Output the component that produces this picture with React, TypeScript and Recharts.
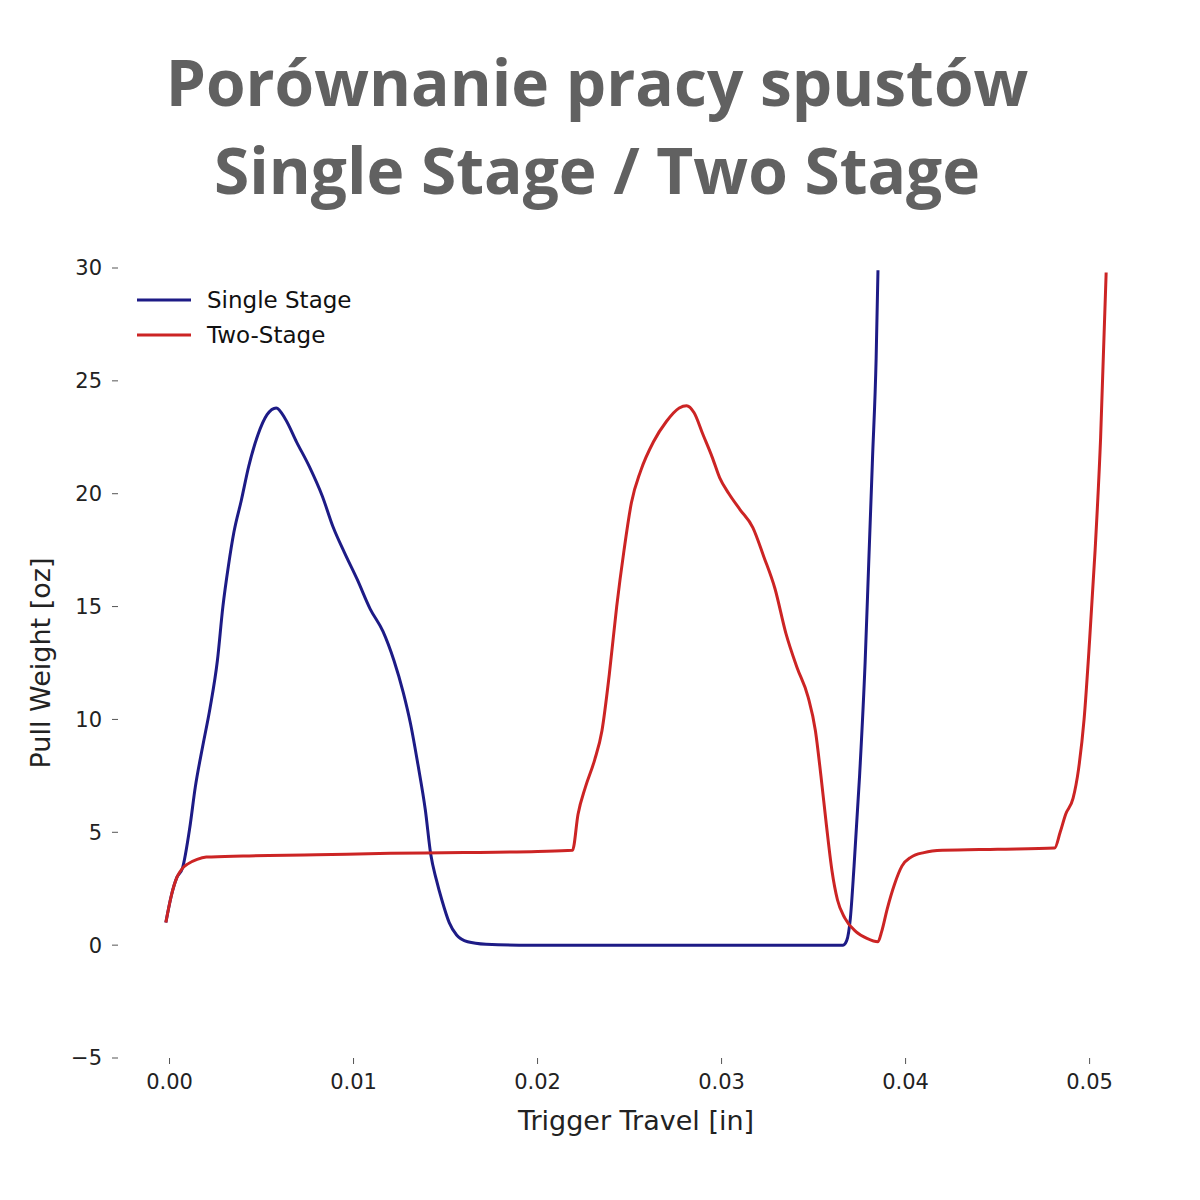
import { LineChart, Line, XAxis, YAxis, Legend } from "recharts";

// trigger travel [in] / pull weight [oz]
const singleStageX = [
  -0.0002, 0.0001, 0.0004, 0.0007, 0.0011, 0.0014, 0.0018, 0.0022, 0.0026, 0.0029,
  0.0032, 0.0035, 0.0039, 0.0043, 0.0048, 0.0053, 0.0058, 0.0063, 0.0069, 0.0076,
  0.0083, 0.0089, 0.0095, 0.0102, 0.0109, 0.0116, 0.0122, 0.0127, 0.0131, 0.0135,
  0.0139, 0.0142, 0.0145, 0.0148, 0.0152, 0.0156, 0.0162, 0.0172, 0.019, 0.025,
  0.03, 0.0366, 0.0368, 0.037, 0.0372, 0.0375, 0.0378, 0.038, 0.0382, 0.0384, 0.0385,
];
const singleStageY = [
  1.0, 2.2, 3.0, 3.4, 5.2, 7.0, 8.8, 10.5, 12.6, 15.0,
  16.8, 18.3, 19.7, 21.2, 22.6, 23.5, 23.8, 23.3, 22.3, 21.2,
  19.9, 18.5, 17.4, 16.2, 14.9, 13.9, 12.6, 11.2, 9.8, 8.0,
  6.0, 4.0, 2.9, 2.0, 1.0, 0.45, 0.15, 0.04, 0.0, 0.0,
  0.0, 0.0, 0.2, 1.2, 3.5, 7.5, 12.5, 17.0, 21.5, 26.0, 29.9,
];

const twoStageX = [
  -0.0002, 0.0001, 0.0004, 0.0007, 0.001, 0.0015, 0.002, 0.004, 0.008, 0.012,
  0.016, 0.02, 0.0219, 0.0222, 0.0226, 0.0231, 0.0235, 0.0239, 0.0243, 0.0247,
  0.0251, 0.0256, 0.0263, 0.027, 0.0277, 0.0281, 0.0285, 0.029, 0.0295, 0.0299,
  0.0304, 0.031, 0.0317, 0.0323, 0.0329, 0.0335, 0.0341, 0.0347, 0.0351, 0.0354,
  0.0357, 0.036, 0.0363, 0.0367, 0.0373, 0.0379, 0.0385, 0.0387, 0.039, 0.0394,
  0.0398, 0.0403, 0.041, 0.042, 0.045, 0.0481, 0.0484, 0.0487, 0.0491, 0.0494,
  0.0497, 0.05, 0.0503, 0.0506, 0.0509,
];
const twoStageY = [
  1.0, 2.2, 3.0, 3.4, 3.6, 3.8, 3.9, 3.95, 4.0, 4.07,
  4.1, 4.15, 4.2, 5.8, 7.0, 8.2, 9.5, 12.0, 15.0, 17.5,
  19.6, 21.0, 22.3, 23.2, 23.8, 23.9, 23.6, 22.6, 21.6, 20.7,
  20.0, 19.3, 18.5, 17.2, 15.8, 13.8, 12.3, 11.0, 9.5, 7.5,
  5.3, 3.3, 2.0, 1.2, 0.6, 0.3, 0.15, 0.6, 1.6, 2.7,
  3.5, 3.9, 4.1, 4.2, 4.25, 4.3, 5.0, 5.8, 6.5, 7.8,
  10.0, 13.5, 17.5, 22.5, 29.8,
];

const xTicks = [0, 0.01, 0.02, 0.03, 0.04, 0.05];
const yTicks = [-5, 0, 5, 10, 15, 20, 25, 30];

const singleStage = singleStageX.map((x, i) => ({ x, y: singleStageY[i] }));
const twoStage = twoStageX.map((x, i) => ({ x, y: twoStageY[i] }));

const BLUE = "#1d1b86";
const RED = "#cc2424";
const tickFont = { fontFamily: "DejaVu Sans", fontSize: 21, fill: "#222" };
const labelFont = { fontFamily: "DejaVu Sans", fontSize: 27, fill: "#222" };

function formatY(v: number) {
  return v < 0 ? "\u2212" + Math.abs(v) : String(v);
}

function renderLegend() {
  const items = [
    { label: "Single Stage", color: BLUE },
    { label: "Two-Stage", color: RED },
  ];
  return (
    <div style={{ fontFamily: "DejaVu Sans", fontSize: 23, color: "#111" }}>
      {items.map((item) => (
        <div
          key={item.label}
          style={{ display: "flex", alignItems: "center", height: 35 }}
        >
          <svg width={54} height={6} style={{ marginRight: 16 }}>
            <line x1={0} y1={3} x2={54} y2={3} stroke={item.color} strokeWidth={3} />
          </svg>
          <span>{item.label}</span>
        </div>
      ))}
    </div>
  );
}

export default function App() {
  return (
    <div
      style={{
        position: "absolute",
        left: 0,
        top: 0,
        width: 1200,
        height: 1200,
        background: "#fff",
      }}
    >
      <div
        style={{
          position: "absolute",
          top: 38,
          left: 0,
          width: 1194,
          textAlign: "center",
          fontFamily: "Open Sans",
          fontWeight: 700,
          fontSize: 64,
          lineHeight: "88px",
          color: "#616161",
        }}
      >
        Porównanie pracy spustów
        <br />
        Single Stage / Two Stage
      </div>
      <LineChart
        width={1200}
        height={1200}
        margin={{ top: 268, right: 46, bottom: 42, left: 18 }}
      >
        <XAxis
          type="number"
          dataKey="x"
          domain={[-0.0028, 0.0535]}
          ticks={xTicks}
          tickFormatter={(v: number) => v.toFixed(2)}
          tick={tickFont}
          axisLine={false}
          tickLine={{ stroke: "#555" }}
          tickSize={6}
          tickMargin={10}
          height={100}
          allowDataOverflow
          label={{
            value: "Trigger Travel [in]",
            position: "insideBottom",
            offset: 28,
            style: labelFont,
          }}
        />
        <YAxis
          type="number"
          dataKey="y"
          domain={[-5, 30]}
          ticks={yTicks}
          tickFormatter={formatY}
          tick={tickFont}
          axisLine={false}
          tickLine={{ stroke: "#555" }}
          tickSize={6}
          tickMargin={10}
          width={100}
          allowDataOverflow
          label={{
            value: "Pull Weight [oz]",
            angle: -90,
            position: "insideLeft",
            offset: 22,
            style: { ...labelFont, textAnchor: "middle" },
          }}
        />
        <Legend
          layout="vertical"
          align="center"
          verticalAlign="middle"
          content={renderLegend}
          wrapperStyle={{ left: 137, top: 282, width: "auto" }}
        />
        <Line
          data={singleStage}
          dataKey="y"
          name="Single Stage"
          type="monotone"
          stroke={BLUE}
          strokeWidth={3}
          dot={false}
          isAnimationActive={false}
        />
        <Line
          data={twoStage}
          dataKey="y"
          name="Two-Stage"
          type="monotone"
          stroke={RED}
          strokeWidth={3}
          dot={false}
          isAnimationActive={false}
        />
      </LineChart>
    </div>
  );
}
